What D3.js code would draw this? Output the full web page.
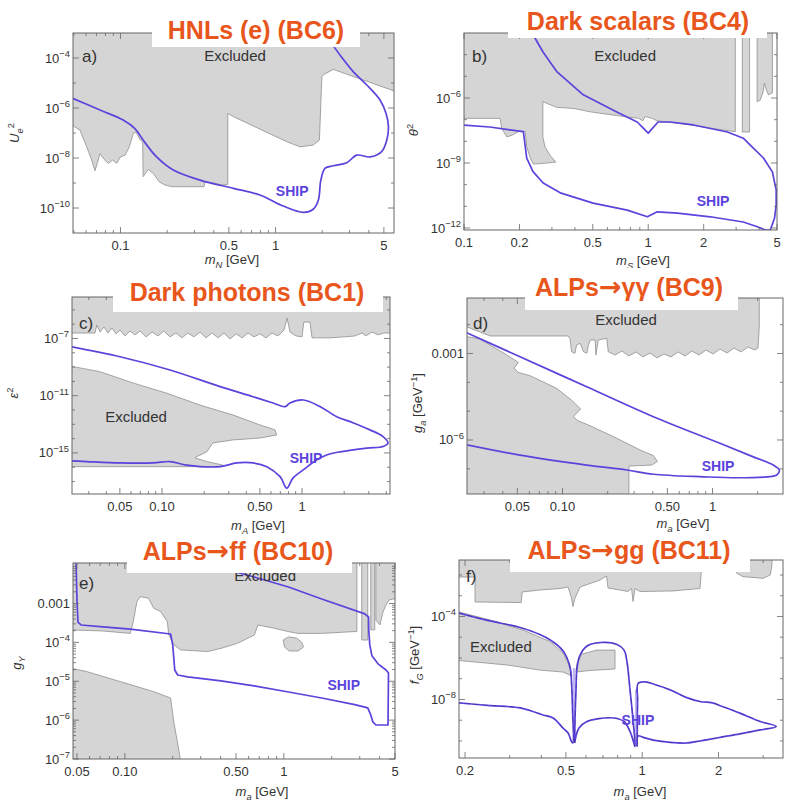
<!DOCTYPE html>
<html><head><meta charset="utf-8">
<script src="https://cdn.jsdelivr.net/npm/d3@7"></script>
<style>
body{margin:0;background:#fff;}
svg{display:block;font-family:"Liberation Sans",Arial,sans-serif;}
</style></head><body>
<svg id="chart" width="785" height="803"></svg>
<script>
// ---------------- Panel a: HNLs (e) ----------------
const aExclMass = [0.045,0.045,0.0548,0.0605,0.0652,0.0685,0.0708,0.0738,0.0783,0.0834,0.0891,0.0945,0.100,0.107,0.114,0.121,0.126,0.134,0.139,0.140,0.151,0.163,0.178,0.194,0.214,0.346,0.351,0.397,0.456,0.492,0.492,0.535,1.18,1.44,1.75,1.92,1.99,2.08,2.36,2.61,6.0,6.0];
const aExclU2 = [1e-2,2.8e-7,1.3e-7,2.8e-8,8.3e-9,3.1e-9,6.1e-9,1.5e-8,8.9e-9,6.1e-9,8.3e-9,6.1e-9,1.1e-8,1.3e-8,2.8e-8,9.7e-8,1.1e-7,5.2e-8,4.5e-8,1.8e-9,3.5e-9,2.4e-9,1.1e-9,8.3e-10,7.1e-10,7.1e-10,1.1e-9,1.0e-9,8.3e-10,8.8e-10,6.1e-7,4.5e-7,4.5e-8,2.8e-8,3.3e-8,5.2e-8,1.8e-5,2.3e-5,3.5e-5,2.8e-5,4.5e-6,1e-2];
const aShipMass = [0.048,0.0738,0.104,0.124,0.140,0.171,0.219,0.326,0.535,0.794,1.12,1.51,1.75,1.89,1.96,2.09,2.36,2.88,3.34,4.07,4.84,5.22,5.35,5.16,4.72,3.88,3.18,2.61,2.14,2.0];
const aShipU2 = [2.6e-6,8.3e-7,3.3e-7,1.5e-7,5.2e-8,1.1e-8,3.3e-9,1.3e-9,6.1e-10,3.3e-10,1.2e-10,6.7e-11,8.9e-11,2.1e-10,1.3e-9,3.9e-9,4.9e-9,6.5e-9,1.3e-8,1.1e-8,1.8e-8,5.2e-8,1.8e-7,6.1e-7,2.1e-6,8.3e-6,2.8e-5,1.3e-4,7.1e-4,1.2e-3];
const aXTicks = [0.1,0.5,1,5], aXLabels = ["0.1","0.5","1","5"];
const aYTicks = [1e-4,1e-6,1e-8,1e-10], aYLabels = ["10^-4","10^-6","10^-8","10^-10"];

// ---------------- Panel b: Dark scalars ----------------
const bExclMass = [0.095,0.095,0.157,0.160,0.171,0.182,0.197,0.215,0.219,0.229,0.238,0.270,0.315,0.293,0.275,0.268,0.268,0.281,0.319,0.393,0.484,0.597,0.735,0.886,0.936,0.96,1.05,1.11,1.69,2.57,2.97,2.97];
const bExclTheta2 = [1e-2,1.15e-7,1.15e-7,4e-8,1.6e-8,1.9e-8,2.8e-8,2.8e-8,5.6e-9,1.7e-9,8.9e-10,9.7e-10,1.1e-9,2.3e-9,5.6e-9,1.6e-8,6.8e-7,5.7e-7,3.7e-7,3.3e-7,2.3e-7,1.8e-7,1.4e-7,1.15e-7,9e-8,1.4e-7,1.15e-7,9e-8,5.7e-8,3.3e-8,2.8e-8,1e-2];
const bStrip1Mass = [3.24,3.24,3.55,3.55], bStrip1Theta2 = [1e-2,2.7e-8,2.7e-8,1e-2];
const bStrip2Mass = [3.90,3.90,4.06,4.2,4.27,4.38,4.49,4.72,4.72];
const bStrip2Theta2 = [1e-2,6.8e-7,8.1e-7,1.9e-6,4.9e-6,2.3e-6,1.4e-6,1.7e-6,1e-2];
const bShipMass = [0.098,0.138,0.210,0.219,0.237,0.269,0.333,0.502,0.769,0.989,1.12,1.44,2.17,3.28,3.91,4.32,4.6,4.85,4.95,4.95,4.72,4.22,3.72,3.28,2.69,1.76,1.32,1.13,1.0,0.94,0.871,0.679,0.444,0.320,0.269,0.243,0.235];
const bShipTheta2 = [5.7e-8,4.6e-8,2.8e-8,1.7e-9,4.0e-10,1.2e-10,4.2e-11,1.4e-11,6.7e-12,3.3e-12,5.6e-12,4.9e-12,3.3e-12,1.9e-12,1.15e-12,8.1e-13,8.1e-13,2.9e-12,1.15e-11,5.6e-11,3.9e-10,1.7e-9,4.9e-9,1.4e-8,2.7e-8,5.7e-8,7.8e-8,7.8e-8,2.4e-8,4.1e-8,7.8e-8,2.2e-7,1.4e-6,1.6e-5,1.3e-4,5.7e-4,1.3e-3];
const bXTicks = [0.1,0.2,0.5,1,2,5], bXLabels = ["0.1","0.2","0.5","1","2","5"];
const bYTicks = [1e-6,1e-9,1e-12], bYLabels = ["10^-6","10^-9","10^-12"];

// ---------------- Panel c: Dark photons ----------------
const cTopMass = [0.02,0.02,0.0332,0.0343,0.0361,0.0385,0.0411,0.0439,0.0469,0.0501,0.0544,0.059,0.0641,0.0697,0.0769,0.0849,0.0936,0.103,0.114,0.126,0.139,0.153,0.169,0.187,0.206,0.228,0.251,0.277,0.306,0.338,0.373,0.411,0.454,0.501,0.553,0.61,0.674,0.744,0.782,0.821,0.906,1.0,1.03,1.14,1.18,1.58,2.03,2.39,2.68,2.86,3.16,3.49,3.85,4.6,4.6];
const cTopEps2 = [1e-3,2.4e-7,2.4e-7,8.8e-7,2.8e-7,6.4e-7,2.4e-7,5.4e-7,2.1e-7,3.9e-7,1.5e-7,3.3e-7,1.8e-7,3.3e-7,1.3e-7,2.8e-7,1.5e-7,3.3e-7,1.3e-7,2.4e-7,1.1e-7,2.4e-7,1.3e-7,2.8e-7,1.1e-7,2.4e-7,1.1e-7,2.4e-7,9.2e-8,2.1e-7,1.1e-7,2.4e-7,1.3e-7,2.1e-7,1.1e-7,2.4e-7,1.5e-7,3.9e-7,2.7e-6,2.8e-7,1.5e-7,1.3e-7,1.4e-6,1.4e-6,1.1e-7,1.1e-7,1.3e-7,1.5e-7,2.4e-7,1.5e-7,2.8e-7,1.8e-7,2.4e-7,2.4e-7,1e-3];
const cLobeMass = [0.02,0.036,0.062,0.108,0.187,0.321,0.50,0.641,0.659,0.50,0.321,0.231,0.209,0.177,0.172,0.209,0.273,0.273,0.02];
const cLobeEps2 = [1.4e-9,4.8e-10,7.8e-11,1.5e-11,2.2e-12,4.5e-13,9.1e-14,4.1e-14,1.8e-14,1.1e-14,8.1e-15,5e-15,1.2e-15,5.5e-16,4.5e-16,2.5e-16,1.4e-16,1.1e-16,1.1e-16];
const cShipMass = [0.02,0.0501,0.114,0.26,0.447,0.621,0.756,0.821,1.02,1.35,1.77,2.31,3.06,3.79,4.11,3.79,2.9,1.87,1.5,1.27,1.02,0.863,0.778,0.697,0.56,0.447,0.342,0.26,0.15,0.114,0.0863,0.0501,0.029,0.02];
const cShipEps2 = [3.3e-8,5.3e-9,6.3e-10,4.3e-11,8.5e-12,3.1e-12,1.7e-12,3.1e-12,5e-12,1.7e-12,3.4e-13,1.3e-13,4.1e-14,1.4e-14,5e-15,2.8e-15,2.2e-15,1.2e-15,7.2e-16,3.2e-16,6.5e-17,1.8e-17,3.5e-18,2.2e-17,1.1e-16,2e-16,2e-16,1.1e-16,1.4e-16,2.5e-16,2e-16,2e-16,2.5e-16,3e-16];
const cXTicks = [0.05,0.1,0.5,1], cXLabels = ["0.05","0.10","0.50","1"];
const cYTicks = [1e-7,1e-11,1e-15], cYLabels = ["10^-7","10^-11","10^-15"];

// ---------------- Panel d: ALPs -> gamma gamma ----------------
const dTopMass = [0.02,0.02,0.0329,0.109,0.112,0.115,0.121,0.124,0.131,0.138,0.145,0.149,0.153,0.165,0.167,0.173,0.197,0.202,0.224,0.249,0.277,0.309,0.344,0.383,0.427,0.475,0.529,0.589,0.656,0.730,0.813,0.905,1.01,1.12,1.25,1.39,1.55,1.72,1.92,2.01,2.05,2.05];
const dTopG = [0.2,0.0112,0.00405,0.00405,0.00337,0.00115,0.00102,0.00197,0.00226,0.00115,0.00102,0.00197,0.00294,0.00294,8.9e-4,0.00294,0.00337,0.00115,8.9e-4,0.00122,8.2e-4,0.00113,7.6e-4,0.00104,7.0e-4,9.6e-4,7.6e-4,0.00113,8.2e-4,0.00122,8.9e-4,0.00132,9.6e-4,0.00143,0.00104,0.00155,0.00113,0.00168,0.00132,0.00155,0.0085,0.2];
const dLowMass = [0.02,0.0232,0.0282,0.0329,0.0425,0.0508,0.0475,0.0508,0.0607,0.0914,0.115,0.132,0.118,0.126,0.153,0.23,0.329,0.403,0.429,0.393,0.277,0.277,0.02];
const dLowG = [0.005,0.00383,0.00319,0.00197,8.9e-4,4.9e-4,3.1e-4,2.2e-4,1.7e-4,6.2e-5,2.4e-5,1.2e-5,6.4e-6,4.7e-6,3.1e-6,1.15e-6,4.5e-7,2.9e-7,1.8e-7,1.35e-7,1.25e-7,1e-9,1e-9];
const dShipMass = [0.0225,0.0521,0.145,0.403,1.12,1.87,2.54,2.79,2.68,2.3,1.45,0.869,0.403,0.268,0.145,0.0521,0.0225];
const dShipG = [0.0055,7.7e-4,7.0e-5,6.4e-6,7.7e-7,2.6e-7,1.35e-7,9.1e-8,6.1e-8,5.3e-8,4.9e-8,5.3e-8,6.5e-8,9.1e-8,1.35e-7,3.0e-7,7.0e-7];
const dXTicks = [0.05,0.1,0.5,1], dXLabels = ["0.05","0.10","0.50","1"];
const dYTicks = [1e-3,1e-6], dYLabels = ["0.001","10^-6"];

// ---------------- Panel e: ALPs -> ff ----------------
const eTopMass = [0.045,0.045,0.0733,0.108,0.113,0.119,0.125,0.141,0.152,0.168,0.185,0.189,0.204,0.224,0.331,0.402,0.513,0.653,0.686,0.875,1.06,1.23,1.73,2.81,2.88,2.88];
const eTopG = [0.05,2.1e-4,1.96e-4,1.7e-4,3.4e-4,0.00111,0.0015,0.00136,7.5e-4,6.2e-4,3.4e-4,1.55e-4,8.6e-5,6.4e-5,5.8e-5,7.0e-5,9.5e-5,1.55e-4,2.8e-4,2.3e-4,1.9e-4,1.7e-4,1.7e-4,1.9e-4,1.9e-4,0.05];
const eIslandMass = [0.99,1.07,1.2,1.29,1.33,1.23,1.08,1.01];
const eIslandG = [1.15e-4,1.38e-4,1.3e-4,1.02e-4,7.6e-5,6.0e-5,6.0e-5,7.6e-5];
const eStrip1Mass = [3.09,3.09,3.37,3.37], eStrip1G = [0.05,1.15e-4,1.15e-4,0.05];
const eStrip2Mass = [3.52,3.52,3.73,3.73], eStrip2G = [0.05,2.1e-4,2.1e-4,0.05];
const eStrip3Mass = [3.79,3.79,4.02,4.2,4.39,4.58,5.3,5.3], eStrip3G = [0.05,3.7e-4,2.8e-4,6.0e-4,9.2e-4,0.00123,0.0014,0.05];
const eLowMass = [0.045,0.0576,0.0935,0.152,0.194,0.203,0.214,0.224,0.045];
const eLowG = [2.2e-5,1.77e-5,9.8e-6,5.4e-6,3.7e-6,9.1e-7,2.8e-7,9e-8,9e-8];
const eShipMass = [0.0493,0.05,0.0507,0.053,0.0731,0.108,0.194,0.2,0.206,0.215,0.248,0.402,0.65,1.07,1.73,2.79,3.37,3.52,3.63,3.79,4.52,4.55,4.39,3.91,3.58,3.47,3.42,3.41,3.23,1.73,1.07,0.65,0.402,0.357];
const eShipG = [0.012,0.00123,3.3e-4,2.8e-4,2.5e-4,2.2e-4,1.64e-4,8.6e-5,1.95e-5,1.45e-5,1.29e-5,1.02e-5,7.6e-6,5.3e-6,3.7e-6,2.5e-6,2.06e-6,1.36e-6,9.0e-7,7.5e-7,7.5e-7,1.63e-5,1.95e-5,2.8e-5,4.5e-5,8.6e-5,2.1e-4,4.5e-4,5.4e-4,0.0013,0.00266,0.0048,0.0082,0.012];
const eXTicks = [0.05,0.1,0.5,1,5], eXLabels = ["0.05","0.10","0.50","1","5"];
const eYTicks = [1e-3,1e-4,1e-5,1e-6,1e-7], eYLabels = ["0.001","10^-4","10^-5","10^-6","10^-7"];

// ---------------- Panel f: ALPs -> gg ----------------
const fTop1Mass = [0.18,0.18,0.219,0.219,0.333,0.336,0.395,0.474,0.51,0.526,0.533,0.543,0.569,0.682,0.723,0.733,0.817,0.879,0.908,0.92,0.937,0.98,1.32,1.69,1.71,1.71];
const fTop1F = [0.2,0.008,0.008,5.0e-4,4.7e-4,0.00152,0.00189,0.00223,0.00264,7.8e-4,3.0e-4,7.8e-4,0.00264,0.0057,0.009,0.00236,0.00189,0.0016,0.00223,5.3e-4,0.00223,0.0016,0.0017,0.00223,0.014,0.2];
const fTop2Mass = [2.36,2.36,2.5,3.0,3.2,3.25,3.25], fTop2F = [0.2,0.0121,0.0083,0.0069,0.01,0.03,0.2];
const fBand1Mass = [0.18,0.251,0.339,0.433,0.487,0.514,0.528,0.487,0.395,0.293,0.18];
const fBand1F = [1.9e-4,6.8e-5,2.2e-5,6.2e-6,1.74e-6,4.6e-7,1.36e-7,2.1e-7,2.6e-7,4.6e-7,8e-7];
const fBand2Mass = [0.548,0.622,0.781,0.781,0.664,0.579,0.553];
const fBand2F = [2.1e-7,2.5e-7,2.95e-7,2.4e-6,2.4e-6,1.56e-6,5.7e-7];
const fShipLMass = [0.189,0.251,0.330,0.414,0.457,0.487,0.505,0.520,0.526,0.531,0.533,0.526,0.510,0.487,0.445,0.406,0.330,0.251,0.189];
const fShipLF = [1.48e-4,6.1e-5,2.95e-5,1.03e-5,4.7e-6,2.2e-6,1.0e-6,3.3e-7,7.0e-8,3.1e-9,8.0e-11,9.5e-11,2.4e-10,4.2e-10,1.28e-9,1.79e-9,3.9e-9,5.1e-9,6.8e-9];
const fShipMMass = [0.541,0.543,0.548,0.553,0.569,0.606,0.700,0.796,0.848,0.871,0.895,0.920,0.937,0.920,0.895,0.848,0.774,0.664,0.600,0.563,0.541];
const fShipMF = [8.0e-11,1.03e-9,2.9e-8,3.3e-7,1.4e-6,3.8e-6,5.6e-6,4.5e-6,2.4e-6,6.4e-7,2.9e-8,1.03e-9,5.4e-11,1.1e-10,2.9e-10,8.7e-10,1.28e-9,1.15e-9,8.2e-10,4.2e-10,8.0e-11];
const fShipRMass = [0.955,0.959,0.963,1.03,1.12,1.29,1.48,1.69,1.89,2.07,2.43,2.92,3.38,2.92,2.43,2.03,1.69,1.50,1.29,1.12,1.01,0.963,0.955];
const fShipRF = [5.4e-11,9.5e-9,5.9e-8,7.0e-8,5.3e-8,2.9e-8,1.3e-8,8.0e-9,6.8e-9,4.6e-9,2.2e-9,8.7e-10,5.0e-10,3.4e-10,2.2e-10,1.5e-10,1.0e-10,8.0e-11,8.5e-11,1.06e-10,1.5e-10,1.74e-10,5.4e-11];
const fSliverLo = [0.532,0.936], fSliverHi = [0.544,0.956], fSliverBottom = [9e-11,6e-11], fSliverTop = [3.3e-7,3e-8];
const fXTicks = [0.2,0.5,1,2], fXLabels = ["0.2","0.5","1","2"];
const fYTicks = [1e-4,1e-8], fYLabels = ["10^-4","10^-8"];

// ---------------- drawing ----------------
const svg = d3.select("#chart");
const defs = svg.append("defs");
const FILL = "#d5d5d5", EDGE = "#8f8f8f", SHIP = "#5b43dc", TXT = "#333", FRAME = "#666";
const zip = (ms, vs) => ms.map((m, i) => [m, vs[i]]);

function rich(sel, parts, size) {
  let off = 0;
  parts.forEach(([t, s]) => {
    const ts = sel.append("tspan").text(t);
    let target = 0;
    if (s.includes("sub")) { target = 3.5; ts.attr("font-size", size * 0.72); }
    else if (s.includes("sup")) { target = -5.5; ts.attr("font-size", size * 0.72); }
    if (s.includes("i")) ts.attr("font-style", "italic");
    ts.attr("dy", target - off);
    off = target;
  });
}
function tickParts(lbl) {
  if (lbl.includes("^")) { const [b, e] = lbl.split("^"); return [[b, ""], [e.replace("-", "\u2212"), "sup"]]; }
  return [[lbl, ""]];
}
function minorDecade(dom, major, multiples) {
  const out = [];
  const lo = Math.floor(Math.log10(dom[0])) - 1, hi = Math.ceil(Math.log10(dom[1])) + 1;
  for (let n = lo; n <= hi; n++) for (const k of multiples) {
    const v = k * Math.pow(10, n);
    if (v > dom[0] * 1.001 && v < dom[1] * 0.999 && !major.some(mj => Math.abs(mj / v - 1) < 1e-6)) out.push(v);
  }
  return out;
}

const panels = [
  { id: "a", box: [73, 33, 394, 233], xDom: [0.0494, 5.81], yDom: [1e-11, 1e-3],
    excl: [zip(aExclMass, aExclU2)], ship: [zip(aShipMass, aShipU2)], curve: d3.curveCatmullRom.alpha(0.5),
    xT: aXTicks, xL: aXLabels, yT: aYTicks, yL: aYLabels, yMinorMult: [1],
    letter: "a)", letterPos: [82, 62], excludedAt: [0.548, 7.6e-5], shipAt: [1.28, 3.0e-10],
    xTitle: [["m", "i"], ["N", "isub"], [" [GeV]", ""]], xTitlePos: [232, 264],
    yTitle: [["U", "i"], ["e", "isub"], ["2", "sup"]], yTitlePos: [19, 133],
    title: "HNLs (e) (BC6)", titleBox: [152, 6, 208, 41], titlePos: [256, 39] },
  { id: "b", box: [464, 33, 777, 230], xDom: [0.1, 5.0], yDom: [8.1e-13, 1e-3],
    excl: [zip(bExclMass, bExclTheta2), zip(bStrip1Mass, bStrip1Theta2), zip(bStrip2Mass, bStrip2Theta2)],
    ship: [zip(bShipMass, bShipTheta2)], curve: d3.curveLinear,
    xT: bXTicks, xL: bXLabels, yT: bYTicks, yL: bYLabels, yMinorMult: [1],
    letter: "b)", letterPos: [472, 62], excludedAt: [0.75, 5.1e-5], shipAt: [2.25, 1.05e-11],
    xTitle: [["m", "i"], ["S", "isub"], [" [GeV]", ""]], xTitlePos: [643, 265],
    yTitle: [["\u03b8", "i"], ["2", "sup"]], yTitlePos: [418, 130],
    title: "Dark scalars (BC4)", titleBox: [508, 0, 259, 38], titlePos: [638, 30] },
  { id: "c", box: [72, 297, 390, 494], xDom: [0.02275, 4.25], yDom: [1.35e-18, 7.9e-5],
    excl: [zip(cTopMass, cTopEps2), zip(cLobeMass, cLobeEps2)], ship: [zip(cShipMass, cShipEps2)], curve: d3.curveCatmullRom.alpha(0.5),
    xT: cXTicks, xL: cXLabels, yT: cYTicks, yL: cYLabels, yMinorMult: [1],
    letter: "c)", letterPos: [79, 329], excludedAt: [0.0652, 1.5e-13], shipAt: [1.07, 2.0e-16],
    xTitle: [["m", "i"], ["A", "isub"], [" [GeV]", ""]], xTitlePos: [258, 530],
    yTitle: [["\u03b5", "i"], ["2", "sup"]], yTitlePos: [18, 393],
    title: "Dark photons (BC1)", titleBox: [113, 270, 270, 42], titlePos: [247, 301] },
  { id: "d", box: [467, 298, 783, 494], xDom: [0.02308, 2.95], yDom: [1.34e-8, 0.0841],
    excl: [zip(dTopMass, dTopG), zip(dLowMass, dLowG)], ship: [zip(dShipMass, dShipG)], curve: d3.curveCatmullRom.alpha(0.5),
    xT: dXTicks, xL: dXLabels, yT: dYTicks, yL: dYLabels, yMinorMult: [1],
    letter: "d)", letterPos: [473, 329], excludedAt: [0.265, 0.0098], shipAt: [1.09, 8.3e-8],
    xTitle: [["m", "i"], ["a", "isub"], [" [GeV]", ""]], xTitlePos: [683, 528],
    yTitle: [["g", "i"], ["a", "isub"], [" [GeV", ""], ["\u22121", "sup"], ["]", ""]], yTitlePos: [422, 403],
    title: "ALPs\u2192\u03b3\u03b3 (BC9)", titleBox: [525, 268, 213, 42], titlePos: [629, 296] },
  { id: "e", box: [73, 563, 395, 759], xDom: [0.0472, 5.0], yDom: [1e-7, 0.011],
    excl: [zip(eTopMass, eTopG), zip(eIslandMass, eIslandG), zip(eStrip1Mass, eStrip1G), zip(eStrip2Mass, eStrip2G), zip(eStrip3Mass, eStrip3G), zip(eLowMass, eLowG)],
    ship: [zip(eShipMass, eShipG)], curve: d3.curveLinear,
    xT: eXTicks, xL: eXLabels, yT: eYTicks, yL: eYLabels, yMinorMult: [2, 3, 4, 5, 6, 7, 8, 9],
    letter: "e)", letterPos: [79, 589], excludedAt: [0.763, 0.0038], shipAt: [2.38, 6.0e-6],
    xTitle: [["m", "i"], ["a", "isub"], [" [GeV]", ""]], xTitlePos: [262, 796],
    yTitle: [["g", "i"], ["Y", "isub"]], yTitlePos: [21, 663],
    title: "ALPs\u2192ff (BC10)", titleBox: [127, 535, 225, 38], titlePos: [238, 560] },
  { id: "f", box: [459, 560, 783, 758], xDom: [0.1893, 3.593], yDom: [1.51e-11, 0.0528],
    excl: [zip(fTop1Mass, fTop1F), zip(fTop2Mass, fTop2F), zip(fBand1Mass, fBand1F), zip(fBand2Mass, fBand2F)],
    ship: [zip(fShipLMass, fShipLF), zip(fShipMMass, fShipMF), zip(fShipRMass, fShipRF)], curve: d3.curveCatmullRom.alpha(0.5),
    slivers: fSliverLo.map((lo, i) => [lo, fSliverHi[i], fSliverBottom[i], fSliverTop[i]]), dashed: true,
    xT: fXTicks, xL: fXLabels, yT: fYTicks, yL: fYLabels, yMinorMult: [1],
    letter: "f)", letterPos: [466, 582], excludedAt: [0.277, 1.95e-6], shipAt: [0.962, 5.9e-10],
    xTitle: [["m", "i"], ["a", "isub"], [" [GeV]", ""]], xTitlePos: [640, 796],
    yTitle: [["f", "i"], ["G", "isub"], [" [GeV", ""], ["\u22121", "sup"], ["]", ""]], yTitlePos: [419, 655],
    title: "ALPs\u2192gg (BC11)", titleBox: [510, 533, 240, 39], titlePos: [629, 559] }
];

const layerPlots = svg.append("g");
const layerTitles = svg.append("g");

panels.forEach(c => {
  const [x0, y0, x1, y1] = c.box;
  const x = d3.scaleLog().domain(c.xDom).range([x0, x1]);
  const y = d3.scaleLog().domain(c.yDom).range([y1, y0]);
  const g = layerPlots.append("g");
  defs.append("clipPath").attr("id", "clip" + c.id).append("rect")
    .attr("x", x0).attr("y", y0).attr("width", x1 - x0).attr("height", y1 - y0);
  const plot = g.append("g").attr("clip-path", `url(#clip${c.id})`);
  const lin = d3.line().x(d => x(d[0])).y(d => y(d[1]));
  c.excl.forEach(p => plot.append("path").attr("d", lin(p) + "Z")
    .attr("fill", FILL).attr("stroke", EDGE).attr("stroke-width", 0.8).attr("stroke-linejoin", "round"));
  (c.slivers || []).forEach(s => plot.append("rect")
    .attr("x", x(s[0])).attr("width", x(s[1]) - x(s[0]))
    .attr("y", y(s[3])).attr("height", y(s[2]) - y(s[3]))
    .attr("fill", "#b9acf2").attr("opacity", 0.85));
  const sl = d3.line().x(d => x(d[0])).y(d => y(d[1])).curve(c.curve);
  c.ship.forEach(p => {
    plot.append("path").attr("d", sl(p)).attr("fill", "none").attr("stroke", SHIP)
      .attr("stroke-width", 1.7).attr("stroke-linejoin", "round");
    if (c.dashed) plot.append("path").attr("d", sl(p)).attr("fill", "none").attr("stroke", "#2d2470")
      .attr("stroke-width", 0.7).attr("stroke-dasharray", "5,4").attr("opacity", 0.55);
  });
  // frame
  g.append("rect").attr("x", x0).attr("y", y0).attr("width", x1 - x0).attr("height", y1 - y0)
    .attr("fill", "none").attr("stroke", FRAME).attr("stroke-width", 1);
  // ticks
  const tg = g.append("g").attr("stroke", FRAME).attr("stroke-width", 0.8);
  const xMinor = minorDecade(c.xDom, c.xT, [1, 2, 3, 4, 5, 6, 7, 8, 9]);
  const yMinor = minorDecade(c.yDom, c.yT, c.yMinorMult);
  const xt = (v, len) => { const p = x(v);
    tg.append("line").attr("x1", p).attr("x2", p).attr("y1", y1).attr("y2", y1 - len);
    tg.append("line").attr("x1", p).attr("x2", p).attr("y1", y0).attr("y2", y0 + len); };
  const yt = (v, len) => { const p = y(v);
    tg.append("line").attr("y1", p).attr("y2", p).attr("x1", x0).attr("x2", x0 + len);
    tg.append("line").attr("y1", p).attr("y2", p).attr("x1", x1).attr("x2", x1 - len); };
  c.xT.forEach(v => xt(v, 6)); xMinor.forEach(v => xt(v, 3));
  c.yT.forEach(v => yt(v, 6)); yMinor.forEach(v => yt(v, 3));
  // tick labels
  c.xT.forEach((v, i) => g.append("text").attr("x", x(v)).attr("y", y1 + 17)
    .attr("text-anchor", "middle").attr("font-size", 13).attr("fill", TXT).text(c.xL[i]));
  c.yT.forEach((v, i) => {
    const t = g.append("text").attr("x", x0 - 3).attr("y", y(v) + 4.5)
      .attr("text-anchor", "end").attr("font-size", 13).attr("fill", TXT);
    rich(t, tickParts(c.yL[i]), 13);
  });
  // axis titles
  const xtT = g.append("text").attr("x", c.xTitlePos[0]).attr("y", c.xTitlePos[1])
    .attr("text-anchor", "middle").attr("font-size", 13).attr("fill", TXT);
  rich(xtT, c.xTitle, 13);
  const ytT = g.append("text").attr("transform", `translate(${c.yTitlePos[0]},${c.yTitlePos[1]}) rotate(-90)`)
    .attr("text-anchor", "middle").attr("font-size", 13).attr("fill", TXT);
  rich(ytT, c.yTitle, 13);
  // annotations
  g.append("text").attr("x", c.letterPos[0]).attr("y", c.letterPos[1]).attr("font-size", 17)
    .attr("fill", TXT).text(c.letter);
  g.append("text").attr("x", x(c.excludedAt[0])).attr("y", y(c.excludedAt[1]))
    .attr("text-anchor", "middle").attr("font-size", 15).attr("fill", TXT).text("Excluded");
  g.append("text").attr("x", x(c.shipAt[0])).attr("y", y(c.shipAt[1]))
    .attr("text-anchor", "middle").attr("font-size", 14).attr("font-weight", "bold").attr("fill", SHIP).text("SHIP");
  // title (arrow drawn with a font whose arrow glyph is large and heavy)
  const [bx, by, bw, bh] = c.titleBox;
  layerTitles.append("rect").attr("x", bx).attr("y", by).attr("width", bw).attr("height", bh).attr("fill", "#fff");
  const tt = layerTitles.append("text").attr("x", c.titlePos[0]).attr("y", c.titlePos[1]).attr("text-anchor", "middle")
    .attr("font-size", 25).attr("font-weight", "bold").attr("fill", "#e8561c");
  const parts = c.title.split("\u2192");
  tt.append("tspan").text(parts[0]);
  if (parts.length > 1) {
    tt.append("tspan").attr("font-family", "DejaVu Sans").attr("font-size", 27).text("\u2192");
    tt.append("tspan").text(parts[1]);
  }
});
</script>
</body></html>
